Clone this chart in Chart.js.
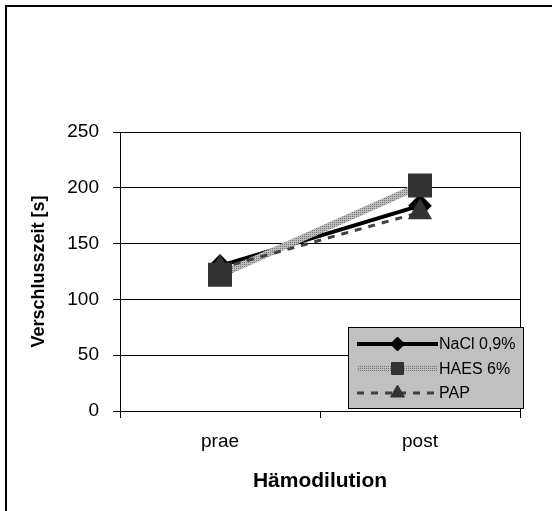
<!DOCTYPE html>
<html>
<head>
<meta charset="utf-8">
<script src="https://cdn.jsdelivr.net/npm/chart.js@4/dist/chart.umd.min.js"></script>
<style>
  html, body { margin: 0; padding: 0; background: #fff; }
  #wrap { width: 552px; height: 511px; }
</style>
</head>
<body>
<div id="wrap"><canvas id="chart" width="552" height="511"></canvas></div>
<script>
// data
const categories = ['prae', 'post'];
const naclValues = [130, 184];
const haesValues = [122, 202];
const papValues = [128, 178];
const seriesNames = ['NaCl 0,9%', 'HAES 6%', 'PAP'];
const yMin = 0;
const yMax = 250;
const yStep = 50;

const FONT = '"Liberation Sans", Arial, sans-serif';

// grey dotted fill used by the HAES line
function makeHatch() {
    const c = document.createElement('canvas');
    c.width = 4; c.height = 4;
    const g = c.getContext('2d');
    g.fillStyle = '#bdbdbd';
    g.fillRect(0, 0, 4, 4);
    g.fillStyle = '#757575';
    g.fillRect(0, 0, 1, 1);
    g.fillRect(2, 2, 1, 1);
    g.fillRect(2, 0, 1, 1);
    g.fillRect(0, 2, 1, 1);
    return g.createPattern(c, 'repeat');
}
const hatch = makeHatch();

// frame round the picture plus right edge of plot area
const framePlugin = {
    id: 'frame',
    beforeDraw: (chart) => {
        const ctx = chart.ctx;
        ctx.save();
        ctx.fillStyle = '#fff';
        ctx.fillRect(0, 0, chart.width, chart.height);
        ctx.strokeStyle = '#000';
        ctx.lineWidth = 2;
        ctx.beginPath();
        ctx.moveTo(6, chart.height);
        ctx.lineTo(6, 6);
        ctx.lineTo(chart.width, 6);
        ctx.stroke();
        ctx.restore();
    },
    beforeDatasetsDraw: (chart) => {
        const a = chart.chartArea;
        const ctx = chart.ctx;
        ctx.save();
        ctx.strokeStyle = '#000';
        ctx.lineWidth = 1;
        ctx.beginPath();
        ctx.moveTo(Math.round(a.right) + 0.5, a.top);
        ctx.lineTo(Math.round(a.right) + 0.5, a.bottom);
        ctx.stroke();
        ctx.restore();
    }
};

// excel style legend box inside the plot
const legendBoxPlugin = {
    id: 'legendBox',
    afterDraw: (chart) => {
        const a = chart.chartArea;
        const ctx = chart.ctx;
        const bx = a.right - 172, by = a.bottom - 84, bw = 175, bh = 81;
        ctx.save();
        ctx.fillStyle = '#c0c0c0';
        ctx.fillRect(bx, by, bw, bh);
        ctx.strokeStyle = '#000';
        ctx.lineWidth = 1;
        ctx.strokeRect(bx + 0.5, by + 0.5, bw, bh);
        const markerR = [7, 8.5, 8];
        chart.data.datasets.forEach((ds, i) => {
            const y = by + 17 + i * 24.5;
            const x0 = bx + 9, x1 = bx + 90, xm = (x0 + x1) / 2;
            ctx.save();
            ctx.strokeStyle = ds.borderColor;
            ctx.lineWidth = ds.borderWidth;
            ctx.setLineDash(ds.borderDash || []);
            ctx.beginPath();
            ctx.moveTo(x0, y);
            ctx.lineTo(x1, y);
            ctx.stroke();
            ctx.restore();
            ctx.fillStyle = ds.pointBackgroundColor;
            ctx.strokeStyle = ds.pointBorderColor;
            ctx.lineWidth = 1;
            ctx.setLineDash([]);
            Chart.helpers.drawPoint(ctx, {
                pointStyle: ds.pointStyle, rotation: 0, radius: markerR[i], borderWidth: 1
            }, xm, y);
            ctx.fillStyle = '#000';
            ctx.font = '16px ' + FONT;
            ctx.textAlign = 'left';
            ctx.textBaseline = 'middle';
            ctx.fillText(ds.label, x1 + 1, y + 1);
        });
        ctx.restore();
    }
};

new Chart(document.getElementById('chart'), {
    type: 'line',
    data: {
        labels: categories,
        datasets: [
            {
                label: seriesNames[0],
                data: naclValues,
                borderColor: '#000',
                borderWidth: 4,
                pointStyle: 'rectRot',
                pointRadius: 9,
                pointBackgroundColor: '#000',
                pointBorderColor: '#000',
                order: 3
            },
            {
                label: seriesNames[1],
                data: haesValues,
                borderColor: hatch,
                borderWidth: 7,
                pointStyle: 'rect',
                pointRadius: 12,
                pointBackgroundColor: '#333',
                pointBorderColor: '#333',
                order: 2
            },
            {
                label: seriesNames[2],
                data: papValues,
                borderColor: '#404040',
                borderWidth: 3,
                borderDash: [7, 7],
                pointStyle: 'triangle',
                pointRadius: 11,
                pointBackgroundColor: '#333',
                pointBorderColor: '#333',
                order: 1
            }
        ]
    },
    options: {
        responsive: false,
        devicePixelRatio: 1,
        animation: false,
        events: [],
        layout: {
            padding: { top: 132, right: 32, bottom: 0, left: 0 }
        },
        scales: {
            x: {
                type: 'category',
                offset: true,
                afterFit: (scale) => { scale.height = 100; },
                grid: {
                    offset: true,
                    drawOnChartArea: false,
                    drawTicks: true,
                    tickLength: 7,
                    color: '#000'
                },
                border: { display: true, color: '#000', width: 1 },
                ticks: {
                    color: '#000',
                    padding: 12,
                    font: { family: FONT, size: 19 }
                },
                title: {
                    display: true,
                    text: 'Hämodilution',
                    color: '#000',
                    font: { family: FONT, size: 21, weight: 'bold' },
                    padding: { top: 0, bottom: 17 }
                }
            },
            y: {
                min: yMin,
                max: yMax,
                afterFit: (scale) => { scale.width = 120; },
                grid: {
                    color: '#000',
                    drawTicks: true,
                    tickLength: 7
                },
                border: { display: true, color: '#000', width: 1 },
                ticks: {
                    stepSize: yStep,
                    color: '#000',
                    padding: 14,
                    font: { family: FONT, size: 19 }
                },
                title: {
                    display: true,
                    text: 'Verschlusszeit [s]',
                    color: '#000',
                    font: { family: FONT, size: 18, weight: 'bold' },
                    padding: { top: 28, bottom: 0 }
                }
            }
        },
        plugins: {
            legend: { display: false },
            tooltip: { enabled: false }
        }
    },
    plugins: [framePlugin, legendBoxPlugin]
});
</script>
</body>
</html>
